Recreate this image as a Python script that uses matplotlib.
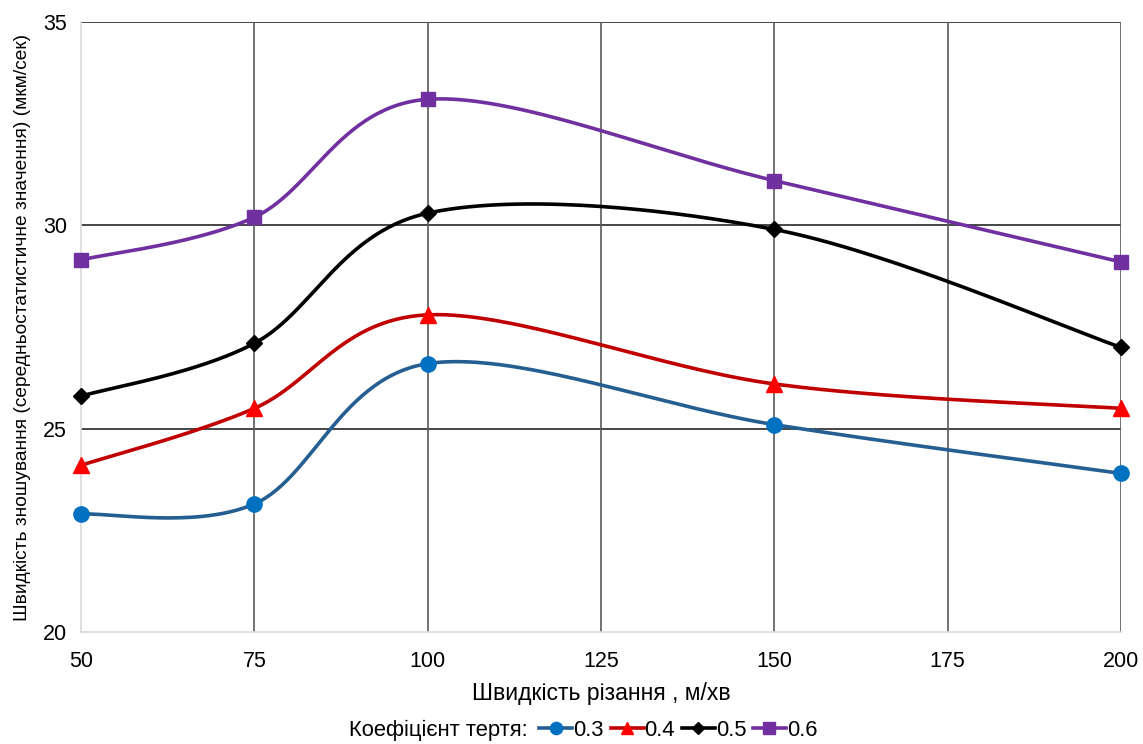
import numpy as np
import matplotlib
matplotlib.use("Agg")
import matplotlib.pyplot as plt
from matplotlib.lines import Line2D

plt.rcParams['font.family'] = ['Liberation Sans', 'DejaVu Sans']

speeds = [50, 75, 100, 150, 200]
friction_labels = ["0.3", "0.4", "0.5", "0.6"]
wear_03 = [22.9, 23.15, 26.6, 25.1, 23.9]
wear_04 = [24.1, 25.5, 27.8, 26.1, 25.5]
wear_05 = [25.8, 27.1, 30.3, 29.9, 27.0]
wear_06 = [29.15, 30.2, 33.1, 31.1, 29.1]

x_ticks = [50, 75, 100, 125, 150, 175, 200]
y_ticks = [20, 25, 30, 35]


def smooth_curve(xs, ys, n=60):
    """Cubic Bezier smoothing through every point (Catmull-Rom style)."""
    p = np.column_stack([xs, ys]).astype(float)
    p_ext = np.vstack([p[0], p, p[-1]])
    out = []
    t = np.linspace(0, 1, n)[:, None]
    for i in range(len(p) - 1):
        p0, p1, p2, p3 = p_ext[i], p_ext[i + 1], p_ext[i + 2], p_ext[i + 3]
        c1 = p1 + (p2 - p0) / 6.0
        c2 = p2 - (p3 - p1) / 6.0
        seg = ((1 - t) ** 3) * p1 + 3 * ((1 - t) ** 2) * t * c1 \
            + 3 * (1 - t) * t ** 2 * c2 + t ** 3 * p2
        out.append(seg if i == 0 else seg[1:])
    out = np.vstack(out)
    return out[:, 0], out[:, 1]


fig = plt.figure(figsize=(11.43, 7.44), dpi=100)
ax = fig.add_axes([0.0709, 0.1505, 0.9099, 0.8199])

series = [
    (wear_03, "#255E91", "#0070C0", "o", 11),
    (wear_04, "#C00000", "#FF0000", "^", 11),
    (wear_05, "#000000", "#000000", "D", 8),
    (wear_06, "#7030A0", "#7030A0", "s", 10),
]

handles = []
for (vals, lc, mc, mk, ms), lab in zip(series, friction_labels):
    sx, sy = smooth_curve(speeds, vals)
    ax.plot(sx, sy, color=lc, lw=2.6, zorder=3, solid_capstyle='round')
    ax.plot(speeds, vals, linestyle='none', marker=mk, markersize=ms,
            color=mc, markeredgecolor=mc, zorder=4, clip_on=False)
    handles.append(Line2D([0], [0], color=lc, lw=2.6, marker=mk,
                          markersize=ms * 0.8, markerfacecolor=mc,
                          markeredgecolor=mc, label=lab))

ax.set_xlim(50, 200)
ax.set_ylim(20, 35)
ax.set_xticks(x_ticks)
ax.set_yticks(y_ticks)

# grid: dark horizontal lines, grey vertical lines
for y in y_ticks[1:]:
    ax.axhline(y, color="#262626", lw=1.2, zorder=1)
for x in x_ticks[1:]:
    ax.axvline(x, color="#595959", lw=1.2, zorder=1)

for side in ['top', 'right']:
    ax.spines[side].set_visible(False)
for side in ['left', 'bottom']:
    ax.spines[side].set_color("#D9D9D9")
    ax.spines[side].set_linewidth(1.2)

ax.tick_params(axis='both', length=0, labelsize=15.5, colors="#000000")
ax.tick_params(axis='x', pad=14)
ax.tick_params(axis='y', pad=10)

ax.set_xlabel("Швидкість різання , м/хв", fontsize=16.5, labelpad=7)
ax.set_ylabel("Швидкість зношування (середньостатистичне значення) (мкм/сек)",
              fontsize=13.8, labelpad=9)

leg_y = 0.018
fig.text(0.462, leg_y, "Коефіцієнт тертя:", fontsize=15.8,
         ha='right', va='center')
fig.legend(handles=handles, loc='center left', bbox_to_anchor=(0.472, leg_y),
           ncol=4, frameon=False, fontsize=15.8, handlelength=1.5,
           handletextpad=0.05, columnspacing=0.3, borderpad=0, borderaxespad=0)

fig.savefig("out.png", dpi=100)
